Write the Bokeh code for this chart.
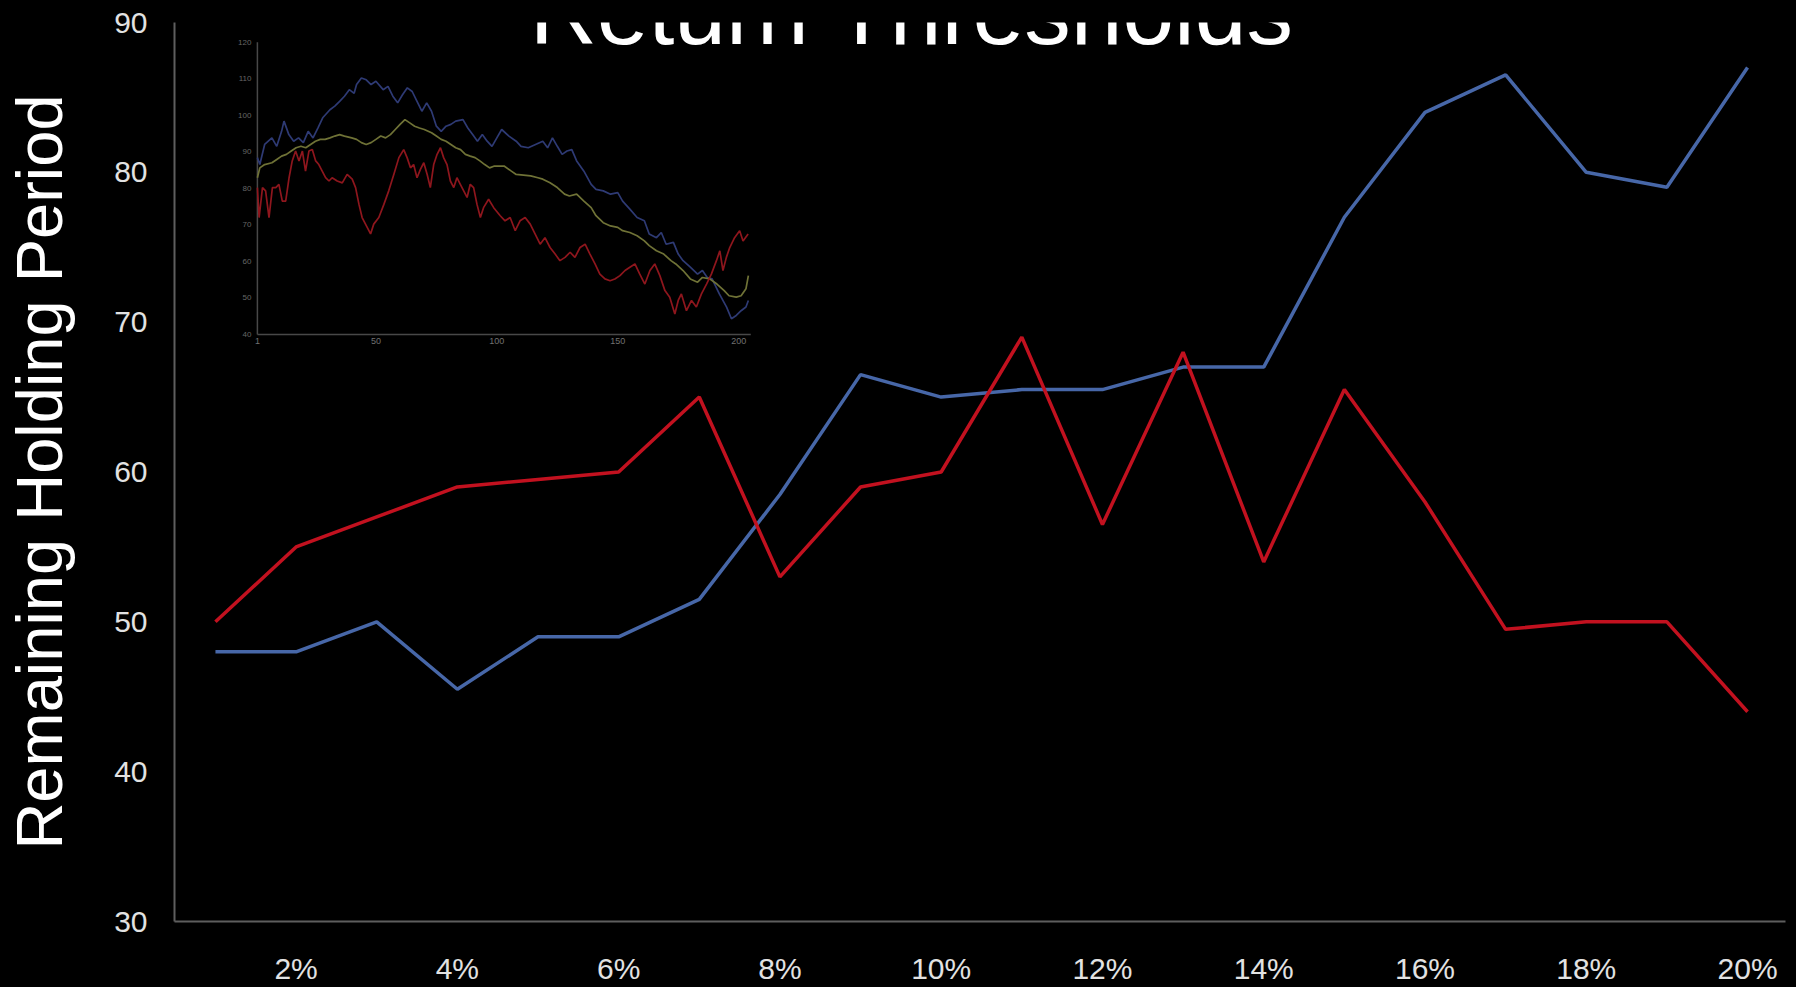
from bokeh.plotting import figure
from bokeh.models import Range1d, FixedTicker, Label
from bokeh.embed import file_html
from bokeh.resources import INLINE
from bokeh.core.properties import value

# ---------------- data ----------------
thresholds = list(range(1, 21))
x_tick_values = [2, 4, 6, 8, 10, 12, 14, 16, 18, 20]
x_tick_labels = ["2%", "4%", "6%", "8%", "10%", "12%", "14%", "16%", "18%", "20%"]
y_tick_values = [30, 40, 50, 60, 70, 80, 90]

red_holding = [50, 55, 57, 59, 59.5, 60, 65, 53, 59, 60,
               69, 56.5, 68, 54, 65.5, 58, 49.5, 50, 50, 44]
blue_holding = [48, 48, 50, 45.5, 49, 49, 51.5, 58.5, 66.5, 65,
                65.5, 65.5, 67, 67, 77, 84, 86.5, 80, 79, 87]

# inset (price paths)
inset_x_ticks = [1, 50, 100, 150, 200]
inset_x_labels = ["1", "50", "100", "150", "200"]
inset_y_ticks = [40, 50, 60, 70, 80, 90, 100, 110, 120]

inset_blue_t = [1, 2, 4, 7, 9, 11, 12, 14, 16, 18, 20, 22, 24, 26, 28, 31, 33, 35, 37, 39,
                41, 42, 44, 46, 48, 50, 53, 55, 57, 59, 61, 63, 65, 67, 69, 71, 73, 75, 77, 79,
                81, 83, 86, 88, 90, 92, 94, 96, 98, 100, 102, 105, 108, 110, 113, 116, 119, 121, 123, 125,
                127, 129, 131, 133, 136, 139, 141, 144, 147, 150, 152, 155, 158, 161, 163, 166, 168, 170, 173, 175,
                177, 180, 183, 185, 187, 189, 192, 195, 197, 199, 201, 203, 204]
inset_blue_v = [88.4, 86.5, 92.0, 93.8, 91.5, 95.6, 98.4, 94.7, 92.9, 93.8,
                92.5, 95.6, 93.8, 96.5, 99.3, 101.5, 102.5, 103.8, 105.2, 107.0,
                106.0, 108.4, 110.2, 109.7, 108.4, 109.3, 107.0, 107.9, 105.2, 103.4,
                105.6, 107.5, 106.5, 103.8, 101.1, 103.4, 101.1, 97.0, 95.6, 97.0,
                97.5, 98.4, 98.8, 96.5, 94.7, 92.9, 94.7, 92.9, 91.5, 93.8,
                96.1, 94.3, 92.9, 91.5, 91.1, 92.0, 92.9, 91.1, 93.8, 91.5,
                89.3, 90.2, 90.6, 87.5, 84.7, 81.1, 79.7, 79.3, 78.4, 78.8,
                76.5, 74.3, 72.0, 71.1, 67.5, 66.5, 67.9, 64.7, 65.2, 62.0,
                60.2, 58.4, 56.5, 57.5, 55.6, 55.2, 51.1, 47.5, 44.3, 45.2,
                46.5, 47.5, 49.3]

inset_olive_t = [1, 2, 4, 7, 9, 11, 13, 15, 17, 19, 21, 23, 25, 27, 29, 31, 33, 35, 37, 40,
                 42, 44, 46, 48, 50, 52, 54, 56, 58, 60, 62, 64, 66, 68, 70, 73, 75, 77, 79, 81,
                 83, 85, 87, 89, 91, 93, 95, 97, 99, 103, 106, 108, 111, 114, 117, 119, 122, 125, 128, 130,
                 133, 136, 139, 141, 144, 147, 150, 152, 155, 158, 161, 163, 166, 169, 172, 174, 177, 180, 183, 185,
                 188, 191, 194, 196, 199, 201, 203, 204]
inset_olive_v = [82.9, 85.6, 86.5, 87.0, 87.9, 88.8, 89.3, 90.2, 91.1, 91.5,
                 91.1, 92.0, 92.9, 93.4, 93.4, 93.8, 94.3, 94.7, 94.3, 93.8,
                 93.4, 92.5, 92.0, 92.5, 93.4, 94.3, 93.8, 94.7, 96.1, 97.5,
                 98.8, 97.9, 97.0, 96.5, 96.1, 95.2, 94.3, 93.4, 92.9, 92.0,
                 91.1, 90.6, 89.3, 88.8, 88.4, 87.5, 86.5, 85.6, 86.1, 86.1,
                 84.7, 83.8, 83.6, 83.4, 82.9, 82.5, 81.5, 80.2, 78.4, 77.9,
                 78.4, 76.5, 74.7, 72.5, 70.6, 69.7, 69.3, 68.4, 67.9, 67.0,
                 65.6, 64.3, 62.9, 62.0, 60.2, 59.3, 57.5, 55.2, 54.3, 55.6,
                 55.2, 53.8, 52.0, 50.6, 50.2, 50.6, 52.5, 56.1]

inset_red_t = [1.0, 1.7, 3.1, 4.4, 5.8, 7.2, 8.6, 9.9, 11.3, 12.7, 14.1, 15.4, 16.8, 18.2, 19.6, 20.9,
               22.3, 23.7, 25.1, 26.4, 27.8, 29.2, 30.6, 31.9, 34.0, 36.1, 38.1, 40.2, 41.6, 43.0,
               44.3, 46.4, 47.8, 49.1, 51.2, 53.3, 55.3, 57.4, 59.5, 61.5, 62.9, 64.3, 65.6, 67.0,
               68.4, 69.8, 71.2, 72.5, 73.9, 75.3, 76.7, 78.0, 79.4, 80.8, 82.2, 83.5, 84.9, 86.3,
               87.7, 89.0, 90.4, 91.8, 93.2, 94.5, 96.6, 98.7,
               101.4, 103.4, 105.5, 107.6, 109.6, 111.7, 113.8, 115.8, 117.9, 119.9, 122.0, 124.1,
               126.1, 128.2, 130.3, 132.3, 134.4, 136.5, 138.5, 140.6, 142.6, 144.7, 146.8, 148.8,
               150.9, 153.0, 155.0, 157.1, 159.1, 161.2, 163.3, 165.3, 167.4, 169.5, 171.5, 173.6,
               175.0, 176.3, 178.4, 180.5, 182.5, 184.6, 186.7, 188.7, 190.8, 192.2, 193.5, 194.9,
               196.3, 198.3, 200.4, 201.8, 203.9]
inset_red_v = [80.2, 72.0, 80.2, 79.3, 72.0, 80.2, 80.2, 81.1, 76.5, 76.5, 82.9, 87.5, 90.2, 87.5, 90.2, 84.7,
               90.2, 90.6, 87.5, 86.5, 84.7, 82.9, 82.0, 82.9, 82.0, 81.5, 83.8, 82.5, 80.2, 75.6,
               72.0, 69.3, 67.5, 70.2, 72.0, 75.6, 79.3, 83.8, 88.4, 90.6, 88.4, 85.6, 86.5, 82.9,
               85.2, 87.0, 83.8, 80.2, 86.5, 89.3, 91.1, 88.4, 86.5, 82.0, 80.2, 82.9, 81.1, 79.3,
               77.5, 81.1, 80.2, 75.6, 72.0, 74.7, 77.0, 74.7,
               72.5, 71.1, 72.0, 68.4, 71.1, 72.0, 70.2, 67.5, 64.7, 66.5, 63.8, 62.0,
               60.2, 61.1, 62.5, 61.1, 63.8, 64.7, 62.0, 59.3, 56.5, 55.2, 54.7, 55.2,
               56.1, 57.5, 58.4, 59.3, 56.5, 53.8, 57.5, 59.3, 56.1, 52.0, 50.2, 45.6,
               49.3, 51.1, 46.5, 49.3, 47.5, 51.1, 53.8, 56.5, 60.2, 62.9, 57.5, 61.1,
               63.8, 66.5, 68.4, 65.6, 67.5]

# ---------------- layout (pixels) ----------------
W, H = 1796, 987
FL, FR, FT, FB = 172, 1785, 22, 922          # main frame box
X1_PX, X20_PX = 213, 1747                     # where 1% and 20% sit
px_per_x = (X20_PX - X1_PX) / 19.0
x_start = 1 - (X1_PX - FL) / px_per_x
x_end = 20 + (FR - X20_PX) / px_per_x

# inset box: t=1 at px 255, t=205 at px 749; v=40 at px 334.3, v=120 at px 41.7
IL, IR, IB, IT = 255.0, 749.0, 334.3, 41.7
I_T0, I_T1, I_V0, I_V1 = 1.0, 205.0, 40.0, 120.0
ppt = (IR - IL) / (I_T1 - I_T0)
ppv = (IB - IT) / (I_V1 - I_V0)
ix_start = I_T0 - (IL - FL) / ppt
ix_end = I_T0 + (FR - IL) / ppt
iy_end = I_V1 + (IT - FT) / ppv
iy_start = I_V0 - (FB - IB) / ppv

FONT = "Liberation Sans"

p = figure(width=W, height=H,
           x_range=Range1d(x_start, x_end), y_range=Range1d(30, 90),
           output_backend="svg", toolbar_location=None,
           min_border_left=FL, min_border_right=W - FR,
           min_border_top=FT, min_border_bottom=H - FB,
           background_fill_color="black", border_fill_color="black",
           outline_line_color=None)
p.grid.visible = False

p.extra_x_ranges = {"ix": Range1d(ix_start, ix_end)}
p.extra_y_ranges = {"iy": Range1d(iy_start, iy_end)}

for ax in (p.xaxis[0], p.yaxis[0]):
    ax.axis_line_color = "#5e5e5e"
    ax.axis_line_width = 2
    ax.major_tick_line_color = None
    ax.minor_tick_line_color = None
    ax.major_tick_out = 0
    ax.major_tick_in = 0
    ax.major_label_text_font = FONT
    ax.major_label_text_font_size = "30px"
    ax.major_label_text_color = "#e2e2e2"

p.xaxis[0].ticker = FixedTicker(ticks=x_tick_values)
p.xaxis[0].major_label_overrides = {v: l for v, l in zip(x_tick_values, x_tick_labels)}
p.xaxis[0].major_label_standoff = 30
p.yaxis[0].ticker = FixedTicker(ticks=y_tick_values)
p.yaxis[0].major_label_standoff = 27
p.yaxis[0].axis_label = "Remaining Holding Period"
p.yaxis[0].axis_label_text_font = FONT
p.yaxis[0].axis_label_text_font_size = "65px"
p.yaxis[0].axis_label_text_font_style = "normal"
p.yaxis[0].axis_label_text_color = "white"
p.yaxis[0].axis_label_standoff = 35

# ---------------- inset ----------------
inset_axis_color = "#484848"
p.line([I_T0, I_T1], [I_V0, I_V0], x_range_name="ix", y_range_name="iy",
       line_color=inset_axis_color, line_width=1.5)
p.line([I_T0, I_T0], [I_V0, I_V1], x_range_name="ix", y_range_name="iy",
       line_color=inset_axis_color, line_width=1.5)
p.text(x=inset_x_ticks, y=[I_V0] * len(inset_x_ticks), text=inset_x_labels,
       x_range_name="ix", y_range_name="iy", y_offset=4,
       text_align="center", text_baseline="top", text_font=value(FONT),
       text_font_size="9px", text_color="#707070")
p.text(x=[I_T0] * len(inset_y_ticks), y=inset_y_ticks, text=[str(v) for v in inset_y_ticks],
       x_range_name="ix", y_range_name="iy", x_offset=-6,
       text_align="right", text_baseline="middle", text_font=value(FONT),
       text_font_size="8px", text_color="#666666")

p.line(inset_blue_t, inset_blue_v, x_range_name="ix", y_range_name="iy",
       line_color="#2e3a74", line_width=1.7)
p.line(inset_olive_t, inset_olive_v, x_range_name="ix", y_range_name="iy",
       line_color="#6f7236", line_width=1.7)
p.line(inset_red_t, inset_red_v, x_range_name="ix", y_range_name="iy",
       line_color="#8e161d", line_width=1.7)

# ---------------- main series ----------------
p.line(thresholds, blue_holding, line_color="#4767a8", line_width=3.5)
p.line(thresholds, red_holding, line_color="#c2111f", line_width=3.5)

# ---------------- title ----------------
p.add_layout(Label(x=9.64, y=90.73, text="Return Thresholds",
                   text_font=FONT, text_font_size="93px", text_color="white",
                   text_align="center", text_baseline="alphabetic"))

html = file_html(p, INLINE, title="Return Thresholds")
html = html.replace("</head>",
                    "<style>html,body{margin:0;padding:0;background:#000;overflow:hidden;}</style></head>", 1)
open("out.html", "w").write(html)
